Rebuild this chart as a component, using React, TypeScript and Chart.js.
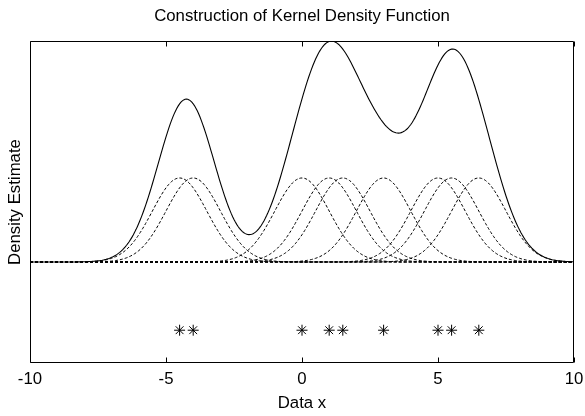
import React, { useEffect, useRef } from "react";
import { Chart, registerables } from "chart.js";

Chart.register(...registerables);

// Observed data points (read from the asterisks)
const DATA_POINTS: number[] = [-4.5, -4, 0, 1, 1.5, 3, 5, 5.5, 6.5];
// Gaussian kernel bandwidth
const BANDWIDTH = 1;
// Height of the asterisk row
const MARKER_Y = -0.036;
// Axis ranges and tick labels
const X_MIN = -10;
const X_MAX = 10;
const X_TICKS: number[] = [-10, -5, 0, 5, 10];
const Y_MIN = -0.0533;
const Y_MAX = 0.1166;
const X_STEP = 0.05;

const TITLE = "Construction of Kernel Density Function";
const X_LABEL = "Data x";
const Y_LABEL = "Density Estimate";

const FONT = "'Liberation Sans', Arial, Helvetica, sans-serif";
const FS = 16.8;

function kernel(x: number, xi: number): number {
  const n = DATA_POINTS.length;
  const u = (x - xi) / BANDWIDTH;
  return Math.exp(-0.5 * u * u) / (n * BANDWIDTH * Math.sqrt(2 * Math.PI));
}

export default function App() {
  const canvasRef = useRef<HTMLCanvasElement | null>(null);

  useEffect(() => {
    const canvas = canvasRef.current;
    if (!canvas) return;

    const grid: number[] = [];
    const steps = Math.round((X_MAX - X_MIN) / X_STEP);
    for (let i = 0; i <= steps; i++) grid.push(X_MIN + i * X_STEP);

    const kernelSets = DATA_POINTS.map((xi) => ({
      type: "line" as const,
      data: grid.map((x) => ({ x, y: kernel(x, xi) })),
      borderColor: "#000",
      borderWidth: 1,
      borderDash: [3, 2],
      pointRadius: 0,
      tension: 0,
    }));

    const sumSet = {
      type: "line" as const,
      data: grid.map((x) => ({
        x,
        y: DATA_POINTS.reduce((s, xi) => s + kernel(x, xi), 0),
      })),
      borderColor: "#000",
      borderWidth: 1.1,
      pointRadius: 0,
      tension: 0,
    };

    const starSet = {
      type: "scatter" as const,
      data: DATA_POINTS.map((x) => ({ x, y: MARKER_Y })),
      pointStyle: "star",
      pointRadius: 5.5,
      borderColor: "#000",
      backgroundColor: "#000",
      pointBorderWidth: 1,
      borderWidth: 1,
      showLine: false,
    };

    const boxPlugin = {
      id: "boxPlugin",
      afterDraw(chart: any) {
        const { ctx, chartArea } = chart;
        const xs = chart.scales.x;
        ctx.save();
        ctx.strokeStyle = "#000";
        ctx.lineWidth = 1;
        const l = Math.round(chartArea.left) + 0.5;
        const r = Math.round(chartArea.right) - 0.5;
        const t = Math.round(chartArea.top) + 0.5;
        const b = Math.round(chartArea.bottom) - 0.5;
        ctx.beginPath();
        ctx.rect(l, t, r - l, b - t);
        ctx.stroke();
        ctx.beginPath();
        for (const v of X_TICKS) {
          const px = Math.round(xs.getPixelForValue(v)) + 0.5;
          ctx.moveTo(px, b);
          ctx.lineTo(px, b - 5);
          ctx.moveTo(px, t);
          ctx.lineTo(px, t + 5);
        }
        ctx.stroke();
        ctx.restore();
      },
    };

    const chart = new Chart(canvas, {
      type: "line",
      data: { datasets: [...kernelSets, sumSet, starSet] as any },
      options: {
        animation: false,
        responsive: false,
        devicePixelRatio: 1,
        layout: { padding: { left: 19, right: 0, top: 0, bottom: 0 } },
        plugins: {
          legend: { display: false },
          tooltip: { enabled: false },
          title: {
            display: true,
            text: TITLE,
            color: "#000",
            font: { family: FONT, size: FS, weight: "normal" },
            padding: { top: 6.4, bottom: 14.44 },
          },
        },
        scales: {
          x: {
            type: "linear",
            min: X_MIN,
            max: X_MAX,
            afterBuildTicks: (scale: any) => {
              scale.ticks = X_TICKS.map((v) => ({ value: v }));
            },
            afterFit: (scale: any) => {
              scale.height = 53;
              scale.paddingLeft = 0;
              scale.paddingRight = 11;
            },
            grid: { display: false, drawTicks: false },
            border: { display: false },
            ticks: {
              color: "#000",
              padding: 5.9,
              maxRotation: 0,
              font: { family: FONT, size: FS },
            },
            title: {
              display: true,
              text: X_LABEL,
              color: "#000",
              font: { family: FONT, size: FS },
              padding: { top: 0, bottom: 2.6 },
            },
          },
          y: {
            type: "linear",
            min: Y_MIN,
            max: Y_MAX,
            afterFit: (scale: any) => {
              scale.width = 11;
            },
            grid: { display: false, drawTicks: false },
            border: { display: false },
            ticks: { display: false },
            title: {
              display: true,
              text: Y_LABEL,
              color: "#000",
              font: { family: FONT, size: FS },
              padding: { top: -14.1, bottom: 0 },
            },
          },
        },
      },
      plugins: [boxPlugin],
    });

    return () => chart.destroy();
  }, []);

  return (
    <div
      style={{
        position: "absolute",
        left: 0,
        top: 0,
        width: 585,
        height: 416,
        background: "#fff",
      }}
    >
      <canvas ref={canvasRef} width={585} height={416} />
    </div>
  );
}
